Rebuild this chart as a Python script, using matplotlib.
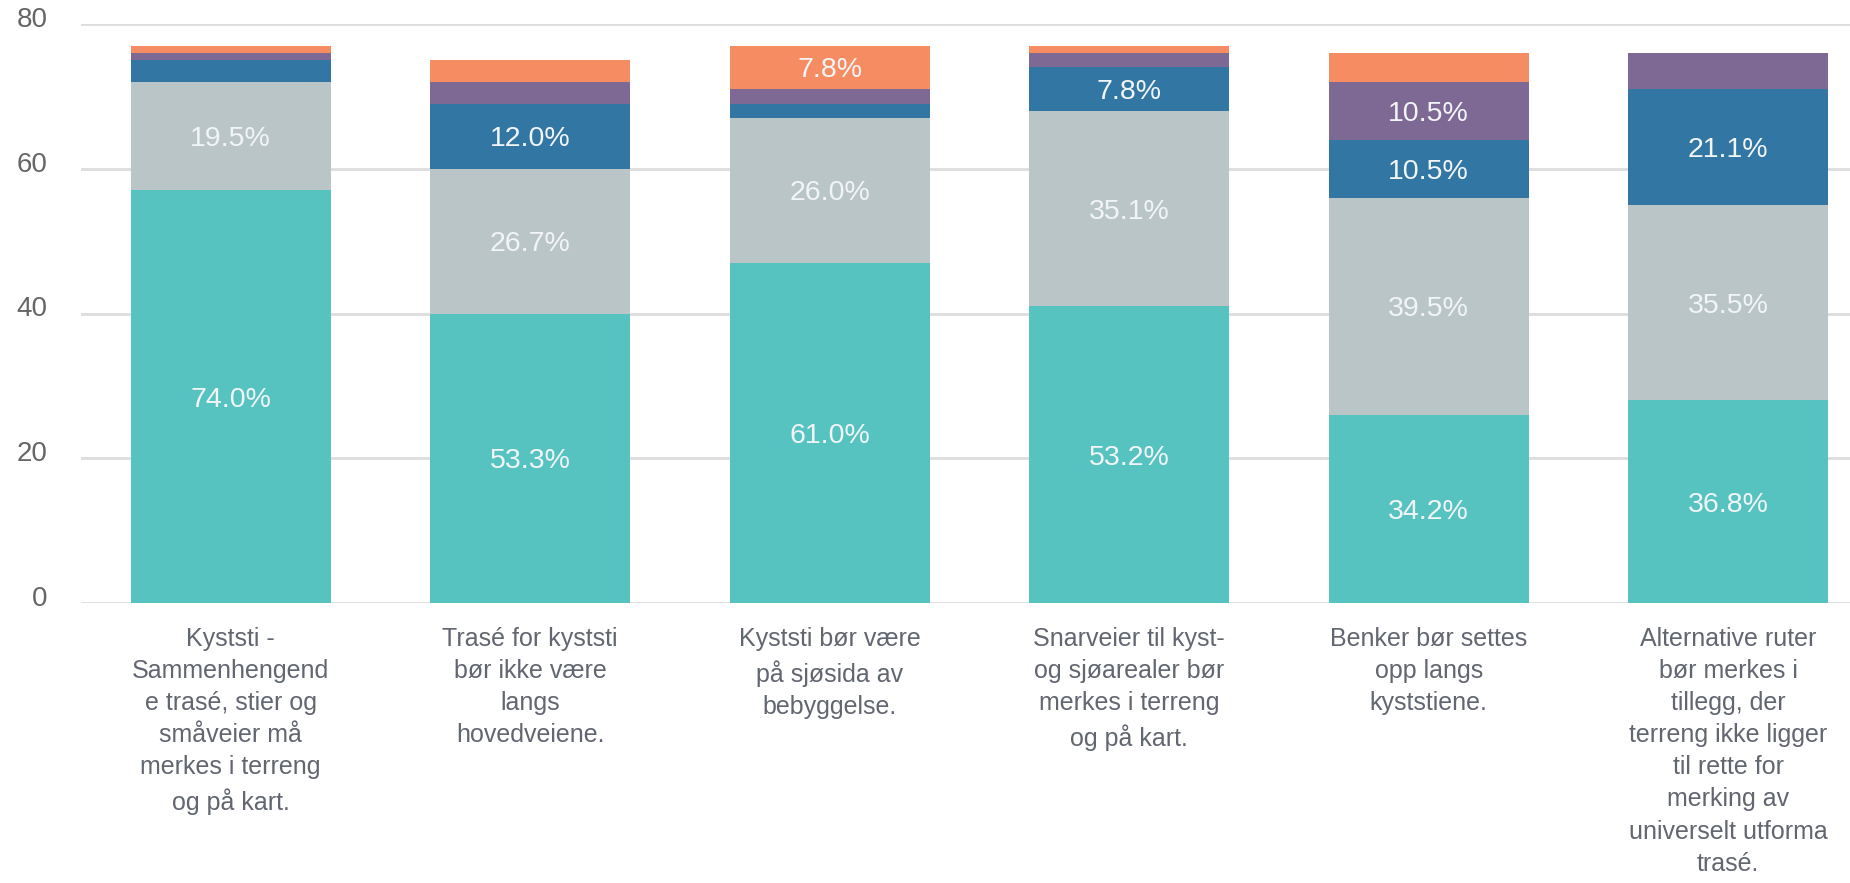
import matplotlib
matplotlib.use("Agg")
import matplotlib.pyplot as plt
import matplotlib.transforms as mtransforms
from matplotlib import font_manager
import numpy as np

categories = [
    "Kyststi -\nSammenhengend\ne trasé, stier og\nsmåveier må\nmerkes i terreng\nog på kart.",
    "Trasé for kyststi\nbør ikke være\nlangs\nhovedveiene.",
    "Kyststi bør være\npå sjøsida av\nbebyggelse.",
    "Snarveier til kyst-\nog sjøarealer bør\nmerkes i terreng\nog på kart.",
    "Benker bør settes\nopp langs\nkyststiene.",
    "Alternative ruter\nbør merkes i\ntillegg, der\nterreng ikke ligger\ntil rette for\nmerking av\nuniverselt utforma\ntrasé.",
]

# answer counts per statement, bottom to top
helt_enig = [57, 40, 47, 41, 26, 28]
delvis_enig = [15, 20, 20, 27, 30, 27]
noytral = [3, 9, 2, 6, 8, 16]
delvis_uenig = [1, 3, 2, 2, 8, 5]
helt_uenig = [1, 3, 6, 1, 4, 0]

series = [helt_enig, delvis_enig, noytral, delvis_uenig, helt_uenig]
colors = ["#57C3C0", "#BAC5C7", "#3277A4", "#7E6894", "#F68D62"]

names = {f.name for f in font_manager.fontManager.ttflist}
base_font = "Liberation Sans" if "Liberation Sans" in names else "DejaVu Sans"
plt.rcParams["font.family"] = base_font

W, H = 1850, 883
fig = plt.figure(figsize=(W / 100, H / 100), dpi=100)
# plot area: left 81px, 0 at y=603, 80 at y=24; slots are 299.5px wide
left, right = 81, 81 + 6 * 299.5
ax = fig.add_axes([left / W, (H - 603) / H, (right - left) / W, (603 - 24) / H])

x = np.arange(len(categories))
totals = np.sum(series, axis=0)
bottom = np.zeros(len(categories))
lbl_off = mtransforms.ScaledTranslation(0, -3 / 100, fig.dpi_scale_trans)
for vals, col in zip(series, colors):
    vals = np.array(vals, dtype=float)
    ax.bar(x, vals, width=0.668, bottom=bottom, color=col, zorder=2)
    for i, v in enumerate(vals):
        pct = v / totals[i] * 100
        if pct >= 7:
            ax.text(x[i], bottom[i] + v / 2, f"{pct:.1f}%", ha="center", va="center",
                    color="#F2F5F7", fontsize=20.5, zorder=3,
                    transform=ax.transData + lbl_off)
    bottom += vals

ax.set_xlim(-0.5, len(categories) - 0.5)
ax.set_ylim(0, 80)
ax.set_yticks([0, 20, 40, 60, 80])
ax.grid(axis="y", color="#DDDDDD", linewidth=2, zorder=0)
for s in ax.spines.values():
    s.set_visible(False)
ax.tick_params(axis="y", length=0, pad=24, labelsize=20, labelcolor="#666666")
ax.tick_params(axis="x", length=0, pad=17)
offset = mtransforms.ScaledTranslation(0, 7 / 100, fig.dpi_scale_trans)
for lab in ax.get_yticklabels():
    lab.set_transform(lab.get_transform() + offset)
ax.set_xticks(x)
ax.set_xticklabels(categories, fontsize=18, color="#626670", linespacing=1.43)

fig.savefig("out.png", dpi=100)
